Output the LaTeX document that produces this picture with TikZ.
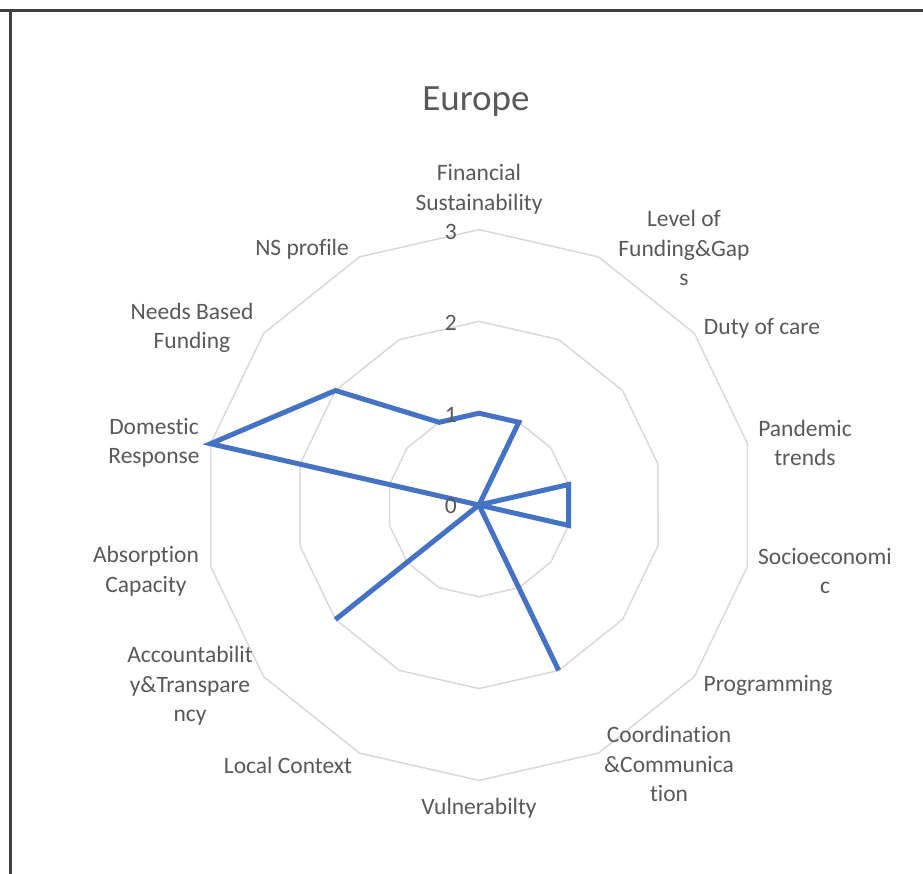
\documentclass[tikz,border=0pt]{standalone}
\usepackage{fontspec}
\setmainfont{Carlito}[Ligatures={NoCommon,NoContextual}]
\definecolor{txtgray}{HTML}{595959}
\definecolor{ringgray}{HTML}{D9D9D9}
\definecolor{serblue}{HTML}{4472C4}
\definecolor{framegray}{HTML}{404040}
\begin{document}
\begin{tikzpicture}[x=1pt,y=-1pt,
  lbl/.style={text=txtgray,font=\fontsize{23.5}{29.5}\selectfont,align=center,inner sep=0pt},
  tick/.style={text=txtgray,font=\fontsize{23.5}{28}\selectfont,inner sep=0pt,anchor=east},
  ring/.style={draw=ringgray,line width=1.5pt},
  series/.style={draw=serblue,line width=5pt,line join=miter},
  frameline/.style={draw=framegray,line width=3pt}]
\useasboundingbox (0,0) rectangle (923,874);
\fill[white] (0,0) rectangle (923,874);
\draw[frameline] (0,11) -- (923,11);
\draw[frameline] (10,11) -- (10,874);
% rings
\foreach \r in {1,2,3}{
  \draw[ring] (479,{505-91.8*\r}) \foreach \i in {1,...,13}{ -- ({479+91.8*\r*cos(90-\i*360/14)},{505-91.8*\r*sin(90-\i*360/14)}) } -- cycle;
}
% data points
\foreach \v [count=\k from 0] in {1,1,0,1,1,0,2,0,0,2,0,3,2,1}{
  \coordinate (p\k) at ({479+91.8*\v*cos(90-\k*360/14)},{505-91.8*\v*sin(90-\k*360/14)});
}
\draw[series] (p0) -- (p1) -- (p2) -- (p3) -- (p4) -- (p5) -- (p6) -- (p7) -- (p8) -- (p9) -- (p10) -- (p11) -- (p12) -- (p13) -- cycle;
% ticks
\node[tick] (t3) at (457,232) {3};
\node[tick] (t2) at (457,323) {2};
\node[tick] (t1) at (457,415) {1};
\node[tick] (t0) at (457,506) {0};
% title
\node[text=txtgray,font=\fontsize{37}{40}\selectfont,inner sep=0pt] (title) at (476,102) {Europe};
% axis labels
\node[lbl] (l0) at (479,189) {Financial\\Sustainability};
\node[lbl] (l1) at (684,248) {Level of\\Funding\&Gap\\s};
\node[lbl] (l2) at (762,328) {Duty of care};
\node[lbl] (l3) at (805,443) {Pandemic\\trends};
\node[lbl] (l4) at (825,571) {Socioeconomi\\c};
\node[lbl] (l5) at (768,685) {Programming};
\node[lbl] (l6) at (669,764) {Coordination\\\&Communica\\tion};
\node[lbl] (l7) at (479,808) {Vulnerabilty};
\node[lbl] (l8) at (288,765) {Local Context};
\node[lbl] (l9) at (190,686) {Accountabilit\\y\&Transpare\\ncy};
\node[lbl] (l10) at (146,571) {Absorption\\Capacity};
\node[lbl] (l11) at (154,443) {Domestic\\Response};
\node[lbl] (l12) at (192,328) {Needs Based\\Funding};
\node[lbl] (l13) at (302,249) {NS profile};
\end{tikzpicture}
\end{document}
